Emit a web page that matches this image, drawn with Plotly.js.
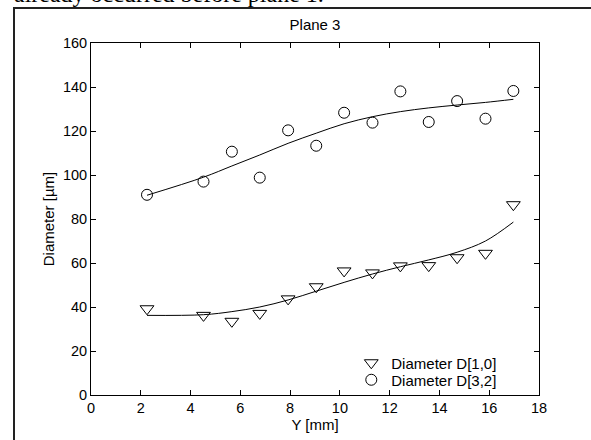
<!DOCTYPE html>
<html>
<head>
<meta charset="utf-8">
<script src="https://cdn.plot.ly/plotly-3.0.1.min.js"></script>
<style>
  html, body { margin: 0; padding: 0; background: #fff; overflow: hidden; width: 591px; height: 440px; }
  #wrap { position: relative; width: 591px; height: 440px; overflow: hidden; }
  #frame { position: absolute; left: 13px; top: 7px; width: 620px; height: 520px; border: 2px solid #222; }
  #cap { position: absolute; left: 14px; top: -18px; font-family: "Liberation Serif", "Times New Roman", serif; font-size: 24px; line-height: 24px; white-space: nowrap; color: #000; }
  #chart { position: absolute; left: 0; top: 0; width: 591px; height: 440px; }
</style>
</head>
<body>
<div id="wrap">
  <div id="frame"></div>
  <div id="cap">already occurred before plane 1.</div>
  <div id="chart"></div>
</div>
<script>
// Positions along the plane (Y, mm)
const yPos = [2.25, 4.52, 5.66, 6.78, 7.92, 9.05, 10.17, 11.31, 12.43, 13.57, 14.71, 15.85, 16.97];
// Measured diameters (µm)
const d10 = [39.2, 36.2, 33.5, 37.1, 43.7, 49.2, 56.4, 55.5, 58.7, 58.8, 62.4, 64.4, 86.5];
const d32 = [91.0, 97.0, 110.6, 98.8, 120.3, 113.3, 128.3, 123.8, 138.0, 124.1, 133.6, 125.6, 138.2];
// Fitted curves
const fit10 = [36.2, 36.5, 37.9, 40.0, 43.2, 47.2, 51.2, 55.0, 58.3, 61.4, 64.9, 70.0, 78.6];
const fit32 = [90.8, 99.0, 104.1, 109.1, 114.4, 119.0, 123.3, 126.5, 128.8, 130.5, 131.8, 133.0, 134.4];
const xTicks = [0, 2, 4, 6, 8, 10, 12, 14, 16, 18];
const yTicks = [0, 20, 40, 60, 80, 100, 120, 140, 160];

const FONT = "Liberation Sans, Arial, Helvetica, sans-serif";

const traces = [
  { x: yPos, y: fit10, type: 'scatter', mode: 'lines', line: { color: '#000', width: 1, shape: 'spline' }, showlegend: false, hoverinfo: 'skip' },
  { x: yPos, y: fit32, type: 'scatter', mode: 'lines', line: { color: '#000', width: 1, shape: 'spline' }, showlegend: false, hoverinfo: 'skip' },
  { x: yPos, y: d10, type: 'scatter', mode: 'markers', name: 'Diameter D[1,0]', legend: 'legend',
    marker: { symbol: 'triangle-down-open', size: 12, color: '#000', line: { color: '#000', width: 1 } } },
  { x: yPos, y: d32, type: 'scatter', mode: 'markers', name: 'Diameter D[3,2]', legend: 'legend2',
    marker: { symbol: 'circle-open', size: 11, color: '#000', line: { color: '#000', width: 1 } } }
];

const axisCommon = {
  showgrid: false, zeroline: false, showline: true, linecolor: '#000', linewidth: 1,
  mirror: 'ticks', ticks: 'inside', ticklen: 5, tickcolor: '#000', tickwidth: 1,
  tickfont: { family: FONT, size: 14.5, color: '#000' }
};

const legendCommon = {
  xanchor: 'left', yanchor: 'middle',
  bgcolor: 'rgba(255,255,255,0)', borderwidth: 0,
  font: { family: FONT, size: 15, color: '#000' }
};

const layout = {
  width: 591, height: 440,
  margin: { l: 91, r: 52, t: 43, b: 45, pad: 0 },
  paper_bgcolor: 'rgba(0,0,0,0)', plot_bgcolor: '#fff',
  font: { family: FONT, size: 15, color: '#000' },
  title: { text: 'Plane 3', font: { family: FONT, size: 15, color: '#000' }, x: 0.5, xref: 'paper', xanchor: 'center', y: 1 - 25/440, yanchor: 'middle' },
  xaxis: Object.assign({}, axisCommon, {
    range: [0, 18], tickvals: xTicks, ticktext: xTicks.map(String),
    title: { text: 'Y [mm]', font: { family: FONT, size: 15, color: '#000' }, standoff: 0 }
  }),
  yaxis: Object.assign({}, axisCommon, {
    range: [0, 160], tickvals: yTicks, ticktext: yTicks.map(String),
    title: { text: 'Diameter [µm]', font: { family: FONT, size: 15, color: '#000' }, standoff: 4 }
  }),
  legend: Object.assign({}, legendCommon, { x: 0.581, y: 0.0909 }),
  legend2: Object.assign({}, legendCommon, { x: 0.581, y: 0.0426 }),
  showlegend: true
};

Plotly.newPlot('chart', traces, layout, { displayModeBar: false, staticPlot: true });
</script>
</body>
</html>
